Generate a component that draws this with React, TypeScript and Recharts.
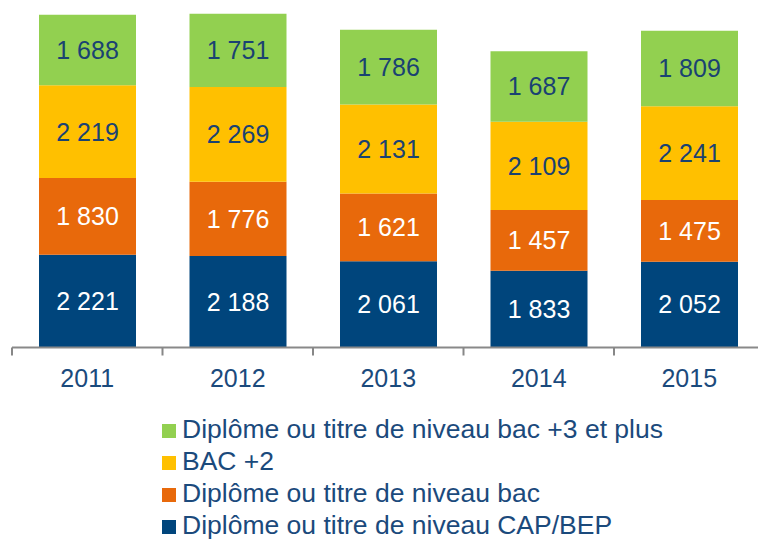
import React from 'react';
import { BarChart, Bar, XAxis, YAxis, LabelList } from 'recharts';

const categories = ['2011', '2012', '2013', '2014', '2015'];
const capBep = [2221, 2188, 2061, 1833, 2052];
const bac = [1830, 1776, 1621, 1457, 1475];
const bac2 = [2219, 2269, 2131, 2109, 2241];
const bac3 = [1688, 1751, 1786, 1687, 1809];

const seriesNames = [
  'Diplôme ou titre de niveau CAP/BEP',
  'Diplôme ou titre de niveau bac',
  'BAC +2',
  'Diplôme ou titre de niveau bac +3 et plus',
];
const seriesKeys = ['capBep', 'bac', 'bac2', 'bac3'];
const seriesColors = ['#00457C', '#E8690B', '#FFC000', '#92D050'];
const labelColors = ['#FFFFFF', '#FFFFFF', '#1A4272', '#1A4272'];

const data = categories.map((c, i) => ({
  year: c,
  capBep: capBep[i],
  bac: bac[i],
  bac2: bac2[i],
  bac3: bac3[i],
}));

const FONT = "'Liberation Sans', Arimo, Arial, sans-serif";
const TEXT = '#1B4A7C';
const CHART_W = 770;
const CHART_H = 539;
const M_LEFT = 12;
const M_RIGHT = 5.5;
const PLOT_W = CHART_W - M_LEFT - M_RIGHT;
const HALF_BAND = PLOT_W / categories.length / 2;

const fmt = (v: any) => String(v).replace(/\B(?=(\d{3})+(?!\d))/g, ' ');

const Tick = (props: any) => {
  const { x, y, payload, index } = props;
  return (
    <g>
      <line x1={x - HALF_BAND} x2={x - HALF_BAND} y1={y} y2={y + 8} stroke="#878787" strokeWidth={2} />
      {index === categories.length - 1 && (
        <line x1={x + HALF_BAND} x2={x + HALF_BAND} y1={y} y2={y + 8} stroke="#878787" strokeWidth={2} />
      )}
      <text x={x} y={y + 39} textAnchor="middle" fill={TEXT} fontSize={25} fontFamily={FONT}>
        {payload.value}
      </text>
    </g>
  );
};

export default function App() {
  const legendOrder = [3, 2, 1, 0];
  return (
    <div style={{ position: 'absolute', left: 0, top: 0, width: 758, height: 539, overflow: 'hidden', background: '#fff' }}>
      <BarChart
        width={CHART_W}
        height={CHART_H}
        data={data}
        margin={{ top: 13, right: M_RIGHT, left: M_LEFT, bottom: 131.5 }}
      >
        <YAxis hide domain={[0, 8000]} />
        <XAxis
          dataKey="year"
          height={60}
          tickLine={false}
          tickSize={0}
          tickMargin={0}
          axisLine={{ stroke: '#898989', strokeWidth: 2 }}
          tick={<Tick />}
          interval={0}
        />
        {seriesKeys.map((k, i) => (
          <Bar key={k} dataKey={k} stackId="a" fill={seriesColors[i]} barSize={97} isAnimationActive={false} name={seriesNames[i]}>
            <LabelList
              dataKey={k}
              position="center"
              formatter={fmt}
              fill={labelColors[i]}
              fontSize={25}
              fontFamily={FONT}
            />
          </Bar>
        ))}
      </BarChart>
      <div style={{ position: 'absolute', left: 162, top: 413.5, fontFamily: FONT, fontSize: 26.5, color: TEXT }}>
        {legendOrder.map((i) => (
          <div key={i} style={{ display: 'flex', alignItems: 'center', height: 32, whiteSpace: 'nowrap' }}>
            <span style={{ display: 'inline-block', width: 14, height: 14, background: seriesColors[i], marginRight: 6, marginTop: 2 }} />
            <span>{seriesNames[i]}</span>
          </div>
        ))}
      </div>
    </div>
  );
}
